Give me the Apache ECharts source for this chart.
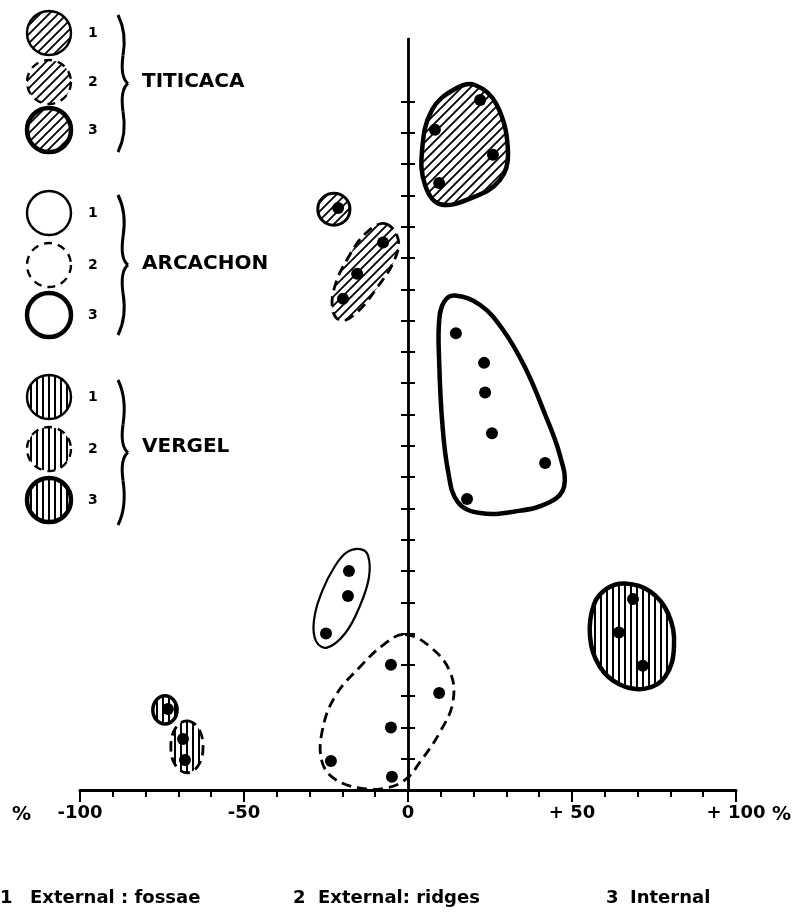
<!DOCTYPE html>
<html>
<head>
<meta charset="utf-8">
<script src="https://cdn.jsdelivr.net/npm/echarts@6/dist/echarts.min.js"></script>
<style>
html, body { margin: 0; padding: 0; background: #fff; }
#main { width: 795px; height: 913px; }
</style>
</head>
<body>
<div id="main"></div>
<script>
// axis ticks / labels
var xLabelText = { '-100': '-100', '-50': '-50', '0': '0', '50': '+ 50', '100': '+ 100' };
var yTicks = [1, 2, 3, 4, 5, 6, 7, 8, 9, 10, 11, 12, 13, 14, 15, 16, 17, 18, 19, 20, 21, 22];

// measured points  [x %, position on vertical scale]
var titicaca1Pts = [[-21.3, 18.6]];
var titicaca2Pts = [[-7.6, 17.5], [-15.5, 16.5], [-19.8, 15.7]];
var titicaca3Pts = [[22.0, 22.05], [8.2, 21.1], [25.9, 20.3], [9.5, 19.4]];
var arcachon1Pts = [[-18.0, 7.0], [-18.3, 6.2], [-25.0, 5.0]];
var arcachon2Pts = [[-5.2, 4.0], [9.5, 3.1], [-5.2, 2.0], [-23.5, 0.93], [-4.9, 0.42]];
var arcachon3Pts = [[14.6, 14.6], [23.2, 13.65], [23.5, 12.7], [25.6, 11.4], [41.8, 10.45], [18.0, 9.3]];
var vergel1Pts = [[-73.2, 2.59]];
var vergel2Pts = [[-68.6, 1.63], [-68.0, 0.96]];
var vergel3Pts = [[68.6, 6.1], [64.3, 5.03], [71.6, 3.97]];

// hand drawn envelopes round each group (same units)
var titicaca1Line = [[-22.6, 19.07], [-19.1, 18.92], [-17.7, 18.56], [-19.1, 18.2], [-22.6, 18.05], [-26.1, 18.2], [-27.5, 18.56], [-26.1, 18.92]];
var titicaca2Line = [[-7.0, 18.1], [-3.0, 17.6], [-4.3, 16.9], [-9.1, 16.1], [-15.2, 15.3], [-20.1, 15.0], [-22.9, 15.3], [-22.3, 16.1], [-18.3, 17.0], [-12.8, 17.8]];
var titicaca3Line = [[20.4, 22.53], [27.1, 21.89], [30.5, 20.35], [28.0, 19.49], [19.8, 18.94], [9.8, 18.72], [5.2, 19.33], [4.3, 20.45], [7.3, 21.73], [14.3, 22.4]];
var arcachon1Line = [[-14.6, 7.7], [-12.2, 7.5], [-11.9, 6.8], [-14.6, 5.9], [-19.2, 5.0], [-24.7, 4.55], [-28.0, 4.75], [-28.7, 5.4], [-26.2, 6.35], [-22.3, 7.15], [-18.6, 7.6]];
var arcachon2Line = [[-0.9, 4.97], [6.7, 4.58], [12.8, 3.78], [13.7, 2.82], [9.8, 1.86], [3.7, 0.9], [-0.9, 0.32], [-7.0, 0.06], [-14.6, 0.06], [-22.3, 0.35], [-26.2, 0.9], [-26.2, 1.86], [-22.3, 2.98], [-14.6, 3.94], [-7.0, 4.68]];
var arcachon3Line = [[14.3, 15.8], [22.0, 15.5], [29.0, 14.7], [35.7, 13.5], [41.8, 12.0], [46.3, 10.7], [47.6, 9.7], [43.3, 9.2], [32.6, 8.9], [22.0, 8.85], [15.2, 9.2], [12.2, 10.2], [10.4, 11.8], [9.5, 13.7], [9.5, 15.0], [11.0, 15.6]];
var vergel1Line = [[-74.1, 3.01], [-71.5, 2.88], [-70.4, 2.56], [-71.5, 2.24], [-74.1, 2.11], [-76.7, 2.24], [-77.8, 2.56], [-76.7, 2.88]];
var vergel2Line = [[-67.4, 2.21], [-63.9, 1.97], [-62.5, 1.38], [-63.9, 0.79], [-67.4, 0.55], [-70.9, 0.79], [-72.3, 1.38], [-70.9, 1.97]];
var vergel3Line = [[66.2, 6.6], [73.8, 6.35], [79.3, 5.64], [81.1, 4.58], [78.4, 3.62], [72.3, 3.24], [64.6, 3.37], [58.5, 3.94], [55.5, 4.9], [56.7, 5.93], [60.7, 6.44]];

var groupNames = ['TITICACA', 'ARCACHON', 'VERGEL'];
var footNums = ['1', '2', '3'];
var footNotes = ['External : fossae', 'External: ridges', 'Internal'];

var FONT = '"DejaVu Sans", sans-serif';

// hatch tiles
function diagTile() {
  var s = 9, c = document.createElement('canvas');
  c.width = s; c.height = s;
  var ctx = c.getContext('2d');
  ctx.strokeStyle = '#000'; ctx.lineWidth = 1.8;
  ctx.beginPath();
  ctx.moveTo(0, s); ctx.lineTo(s, 0);
  ctx.moveTo(-2, 2); ctx.lineTo(2, -2);
  ctx.moveTo(s - 2, s + 2); ctx.lineTo(s + 2, s - 2);
  ctx.stroke();
  return c;
}
function vertTile() {
  var c = document.createElement('canvas');
  c.width = 6; c.height = 6;
  var ctx = c.getContext('2d');
  ctx.fillStyle = '#000';
  ctx.fillRect(0, 0, 2, 6);
  return c;
}
var diag = { image: diagTile(), repeat: 'repeat' };
var vert = { image: vertTile(), repeat: 'repeat' };

// 1 = thin solid, 2 = dashed, 3 = thick solid
var kindStyle = {
  1: { lineWidth: 2.2, lineDash: null },
  2: { lineWidth: 2.8, lineDash: [10, 6] },
  3: { lineWidth: 4.5, lineDash: null }
};

function blob(outline, fill, kind, width) {
  var k = kindStyle[kind];
  return {
    type: 'custom',
    silent: true,
    z: 2,
    data: [[0, 0]],
    renderItem: function (params, api) {
      var pts = outline.map(function (p) { return api.coord(p); });
      return {
        type: 'polygon',
        shape: { points: pts, smooth: 0.4 },
        style: {
          fill: fill || 'rgba(0,0,0,0)',
          stroke: '#000',
          lineWidth: width || k.lineWidth,
          lineDash: k.lineDash
        }
      };
    }
  };
}

var allPts = [].concat(titicaca1Pts, titicaca2Pts, titicaca3Pts, arcachon1Pts, arcachon2Pts,
  arcachon3Pts, vergel1Pts, vergel2Pts, vergel3Pts);

// legend (left top)
var graphics = [];
var legendFills = [diag, null, vert];
var legendY = [[33, 82, 130], [213, 265, 315], [397, 449, 500]];
var braceY = [[15, 152], [195, 335], [380, 525]];
var nameY = [82, 264, 447];

function braceSeg(x1, y1, cx, cy, x2, y2) {
  return {
    type: 'bezierCurve',
    shape: { x1: x1, y1: y1, cpx1: cx, cpy1: cy, x2: x2, y2: y2 },
    style: { fill: null, stroke: '#000', lineWidth: 3 }
  };
}
function label(text, x, y, size) {
  return {
    type: 'text',
    style: { text: text, x: x, y: y, font: 'bold ' + size + 'px ' + FONT, fill: '#000',
      textVerticalAlign: 'middle', verticalAlign: 'middle' }
  };
}

for (var g = 0; g < 3; g++) {
  for (var k = 1; k <= 3; k++) {
    var cy = legendY[g][k - 1];
    graphics.push({
      type: 'circle',
      shape: { cx: 49, cy: cy, r: 22 },
      style: {
        fill: legendFills[g] || '#fff',
        stroke: '#000',
        lineWidth: k === 3 ? 4.5 : 2.4,
        lineDash: k === 2 ? [8, 6] : null
      }
    });
    graphics.push(label(String(k), 88, cy, 14));
  }
  var y0 = braceY[g][0], y1 = braceY[g][1], m = (y0 + y1) / 2, x = 121;
  graphics.push(braceSeg(x - 3, y0, x + 6, y0 + 18, x + 2, m - 28));
  graphics.push(braceSeg(x + 2, m - 28, x - 1, m - 6, x + 7, m));
  graphics.push(braceSeg(x + 7, m, x - 1, m + 6, x + 2, m + 28));
  graphics.push(braceSeg(x + 2, m + 28, x + 6, y1 - 18, x - 3, y1));
  graphics.push(label(groupNames[g], 142, nameY[g], 20));
}
graphics.push(label('%', 12, 815, 19));
graphics.push(label('%', 772, 815, 19));
var footNumX = [0, 293, 606];
var footTextX = [30, 318, 630];
for (var i = 0; i < 3; i++) {
  graphics.push(label(footNums[i], footNumX[i], 898, 18));
  graphics.push(label(footNotes[i], footTextX[i], 898, 18));
}

var myChart = echarts.init(document.getElementById('main'));
var option = {
  animation: false,
  backgroundColor: '#fff',
  grid: { left: 80, right: 59, top: 39, bottom: 123 },
  xAxis: {
    type: 'value',
    min: -100, max: 100, interval: 50,
    splitLine: { show: false },
    axisLine: { onZero: false, lineStyle: { color: '#000', width: 3 } },
    axisTick: { length: 12, lineStyle: { color: '#000', width: 2 } },
    minorTick: { show: true, splitNumber: 5, length: 7, lineStyle: { color: '#000', width: 2 } },
    axisLabel: {
      margin: 14, color: '#000', fontSize: 18, fontWeight: 'bold', fontFamily: FONT,
      formatter: function (v) { return xLabelText[String(v)] || ''; }
    }
  },
  yAxis: [
    {
      // sits on x = 0, ticks to the left
      type: 'value', min: 0, max: 24, interval: 1,
      splitLine: { show: false },
      axisLine: { show: true, onZero: true, lineStyle: { color: '#000', width: 2.5 } },
      axisTick: { show: true, length: 7, customValues: yTicks, lineStyle: { color: '#000', width: 2 } },
      axisLabel: { show: false }
    },
    {
      // same line again, moved from the right edge onto x = 0, ticks to the right
      type: 'value', min: 0, max: 24, interval: 1, position: 'right', offset: -328,
      splitLine: { show: false },
      axisLine: { show: true, onZero: false, lineStyle: { color: '#000', width: 2.5 } },
      axisTick: { show: true, length: 7, customValues: yTicks, lineStyle: { color: '#000', width: 2 } },
      axisLabel: { show: false }
    }
  ],
  graphic: graphics,
  series: [
    blob(titicaca1Line, diag, 1, 3),
    blob(titicaca2Line, diag, 2),
    blob(titicaca3Line, diag, 3),
    blob(arcachon1Line, null, 1),
    blob(arcachon2Line, null, 2),
    blob(arcachon3Line, null, 3),
    blob(vergel1Line, vert, 3, 3.5),
    blob(vergel2Line, vert, 2),
    blob(vergel3Line, vert, 3),
    {
      type: 'scatter',
      z: 5,
      symbolSize: 12,
      itemStyle: { color: '#000', opacity: 1 },
      data: allPts
    }
  ]
};
myChart.setOption(option);
</script>
</body>
</html>
